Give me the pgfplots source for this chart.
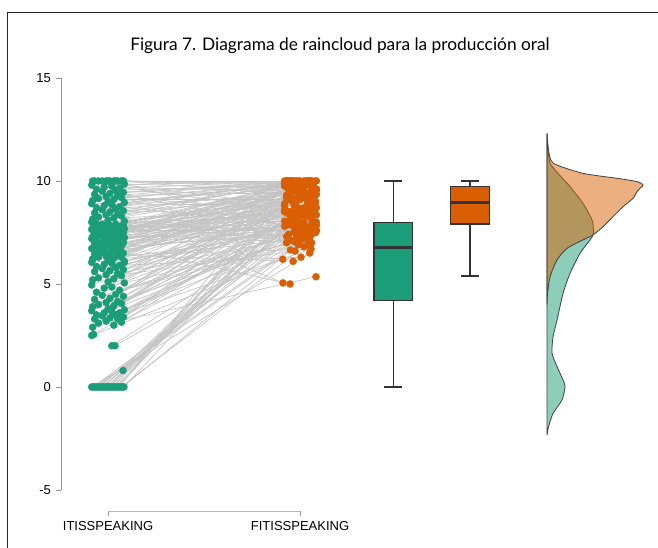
\documentclass[border=0pt]{standalone}
\usepackage{fontspec}
\setmainfont{Liberation Sans}
\newfontfamily\titlefont{Lato}
\usepackage{pgfplots}
\usepackage{pgfplotstable}
\pgfplotsset{compat=1.18}
\usepgfplotslibrary{statistics}
\definecolor{dkgreen}{HTML}{1B9E77}
\definecolor{dkorange}{HTML}{D95F02}
\definecolor{linegray}{RGB}{196,196,196}
\definecolor{axgray}{RGB}{150,150,150}
\definecolor{boxline}{RGB}{51,51,51}

% paired scores: xi yi = ITISSPEAKING (jittered), xf yf = FITISSPEAKING (jittered)
\pgfplotstableread{
xi yi xf yf
-0.085 0 1.050 6.5
-0.077 0 0.930 7.0
-0.069 0 1.020 7.2
-0.061 0 1.080 7.5
-0.053 0 0.970 7.8
-0.045 0 0.940 8.0
-0.037 0 1.060 8.1
-0.029 0 1.000 8.3
-0.021 0 0.920 8.5
-0.013 0 1.040 8.6
-0.005 0 0.990 8.7
0.003 0 1.070 9.0
0.011 0 0.950 9.1
0.019 0 1.030 9.2
0.027 0 0.960 9.5
0.035 0 1.085 9.6
0.043 0 0.980 9.7
0.051 0 1.050 10
0.059 0 0.930 10
0.067 0 1.020 6.8
0.075 0 1.080 7.6
0.083 0 0.970 8.8
0.078 0.8 0.940 7.4
0.020 2.0 1.060 8.2
0.036 2.0 1.000 7.1
-0.085 2.5 0.910 6.2
-0.075 2.55 1.040 8.6
-0.080 2.9 1.083 5.35
0.030 3.0 0.930 7.3
-0.050 3.1 1.020 8.0
0.070 3.15 1.080 9.0
-0.010 3.2 0.970 7.7
0.050 3.3 0.940 8.4
-0.070 3.3 1.060 9.5
0.010 3.35 1.057 6.7
0.080 3.4 0.920 8.9
-0.030 3.45 1.040 10
0.040 3.5 0.990 7.9
-0.060 3.5 1.070 9.3
0.060 3.6 0.950 8.2
-0.020 3.6 1.030 7.5
0.020 3.65 0.960 9.8
-0.085 3.7 1.085 8.7
0.085 3.75 0.980 7.0
0.000 3.8 1.050 8.5
-0.080 3.9 0.930 9.2
0.030 3.95 1.020 7.8
-0.050 4.0 1.080 9.6
0.070 4.05 0.970 8.3
-0.010 4.1 0.940 10
0.050 4.15 1.060 7.4
-0.070 4.25 1.000 7.6
0.010 4.3 0.920 8.8
0.080 4.4 1.040 9.4
-0.030 4.45 0.990 6.9
0.040 4.5 1.070 9.9
-0.060 4.6 0.950 8.1
0.060 4.7 1.030 7.2
-0.020 4.8 0.960 9.1
0.020 4.85 1.085 10
-0.085 4.95 0.980 8.6
0.085 5.05 1.050 7.2
0.000 5.1 0.930 7.9
-0.080 5.2 1.020 8.7
0.030 5.25 1.080 9.3
-0.050 5.3 0.974 6.6
0.070 5.4 0.940 9.7
-0.010 5.45 1.060 8.2
0.050 5.5 1.000 7.3
-0.070 5.6 0.920 10
0.010 5.65 1.040 8.9
0.080 5.7 0.990 9.5
-0.030 5.75 1.070 7.7
0.040 5.8 0.950 8.4
-0.060 5.85 1.030 9.9
0.060 5.9 1.005 6.3
-0.020 5.95 0.960 9.0
0.020 6.0 1.085 8.0
-0.085 6.05 0.980 7.2
0.085 6.1 1.050 7.8
0.000 6.15 0.930 9.2
-0.080 6.2 1.020 8.5
0.030 6.25 1.080 10
-0.050 6.3 0.970 9.6
0.070 6.3 0.940 7.4
-0.010 6.35 1.060 8.9
0.050 6.4 1.000 9.8
-0.070 6.45 0.964 6.1
0.010 6.5 1.040 8.3
0.080 6.5 0.990 9.4
-0.030 6.55 1.070 7.9
0.040 6.6 0.950 10
-0.060 6.6 1.030 8.6
0.060 6.65 0.960 9.1
-0.020 6.7 1.085 7.6
0.020 6.7 0.980 9.7
-0.085 6.72 1.050 8.8
0.085 6.05 0.930 9.3
0.000 6.4 0.950 6.65
-0.080 6.2 1.020 9.9
0.030 6.78 1.080 7.5
-0.050 6.80 0.970 8.4
0.070 6.85 0.940 9.3
-0.010 6.88 1.060 10
0.050 6.90 1.000 7.7
-0.070 6.95 0.920 8.6
0.010 7.00 1.040 9.1
0.080 7.00 0.990 8.0
-0.030 7.02 0.948 5.0
0.040 7.05 0.950 9.5
-0.060 7.10 1.030 9.8
0.060 7.12 0.960 8.3
-0.020 7.15 1.085 7.85
0.020 7.20 0.980 9.0
-0.085 7.20 1.050 8.75
0.085 7.25 0.930 10
0.000 7.28 1.020 7.4
-0.080 7.30 1.080 9.4
0.030 7.32 0.970 8.1
-0.050 7.35 0.940 9.6
0.070 7.40 1.060 7.0
-0.010 7.40 1.000 8.5
0.050 7.42 0.920 9.9
-0.070 7.45 1.040 9.2
0.010 7.50 0.990 7.8
0.080 7.50 1.070 8.85
-0.030 7.52 0.950 9.35
0.040 7.55 1.030 10
-0.060 7.58 0.960 8.2
0.060 7.60 1.085 7.6
-0.020 7.60 0.980 9.05
0.020 7.62 1.050 8.65
-0.085 7.65 0.930 9.75
0.085 7.68 1.020 7.3
0.000 7.70 1.080 9.45
-0.080 7.70 0.970 8.45
0.030 7.72 0.940 7.88
-0.050 7.75 1.060 9.65
0.070 7.78 1.000 10
-0.010 7.80 0.920 8.05
0.050 7.80 1.040 7.65
-0.070 7.82 0.990 9.25
0.010 7.85 1.070 8.8
0.080 7.88 0.950 9.85
-0.030 7.90 1.030 9.15
0.040 7.90 0.960 7.1
-0.060 7.92 1.085 8.35
0.060 7.12 0.980 9.55
-0.020 7.35 1.050 10
0.020 7.55 0.930 8.55
-0.085 8.00 1.020 9.7
0.085 8.05 1.080 9.0
0.000 8.10 0.970 7.5
-0.080 8.15 0.940 10
0.030 8.20 1.060 8.6
-0.050 8.25 1.000 9.4
0.070 8.30 0.920 9.9
-0.010 8.35 1.040 10
0.050 8.40 0.911 5.05
-0.070 8.45 1.070 9.2
0.010 8.50 0.950 9.8
0.080 8.55 1.030 8.3
-0.030 8.60 0.960 10
0.040 8.65 1.085 9.55
-0.060 8.70 0.980 9.95
0.060 8.75 1.050 7.75
-0.020 8.80 0.930 9.3
0.020 8.85 1.020 10
-0.085 8.90 1.080 8.8
0.085 8.95 0.970 9.85
0.000 9.00 0.940 9.6
-0.080 9.05 1.060 10
0.030 9.10 1.000 9.1
-0.050 9.15 0.920 9.75
0.070 9.20 1.040 6.9
-0.010 9.25 0.990 10
0.050 9.30 1.070 9.45
-0.070 9.35 0.950 8.5
0.010 9.40 1.030 9.9
0.080 9.45 0.960 10
-0.030 9.50 1.085 9.35
0.040 9.55 0.980 9.8
-0.060 9.60 1.050 7.6
0.060 9.65 0.930 10
-0.020 9.70 1.020 9.5
0.020 9.75 1.080 8.4
-0.085 9.80 0.970 10
0.085 9.85 0.940 9.65
0.000 10 1.060 10
-0.080 10 1.000 9.9
0.030 10 0.920 7.8
-0.050 10 1.040 10
0.070 10 0.990 9.3
-0.010 10 1.070 9.75
0.050 10 0.950 10
-0.070 10 1.030 8.7
0.010 10 0.960 9.85
0.080 10 1.085 9.6
-0.030 10 0.980 10
0.040 10 1.050 9.95
}\pairs

% half-violin densities: y value, width (px of reference)
\pgfplotstableread{
y w
12.31 0
11.5 1
10.86 3
10.37 11
9.72 23
8.91 36
8.1 45
7.6 46.5
7.38 46
7.14 43
6.49 33
5.52 23
4.55 16
3.25 10
2.44 6
1.63 5
0.99 10
0.34 16
0.02 18
-0.63 15
-1.28 6
-1.93 1.5
-2.33 0
}\densgreen
\pgfplotstableread{
y w
12.31 0
11.5 1.5
10.86 6.3
10.37 36
10.13 70
9.97 90
9.81 96
9.6 92
9.48 90
9.16 86
8.75 76
8.27 66
7.78 56
7.38 46
7.14 36
6.73 20
6.17 10
5.35 3
4.55 0.5
4.0 0
}\densorange

\begin{document}
\begin{tikzpicture}
\path[use as bounding box] (0,0) rectangle (493.5pt,411pt);
\draw[line width=1.1pt, black!85] (5.5pt,-2pt) -- (5.5pt,401.8pt) -- (496pt,401.8pt);
\node[font=\titlefont\fontsize{13}{15}\selectfont] at (255pt,377pt) {Figura 7. Diagrama de raincloud para la producción oral};
\begin{axis}[
  at={(45.75pt,27.75pt)}, anchor=south west,
  x=144pt, y=15.45pt,
  xmin=-0.245, xmax=2.95, ymin=-6.02, ymax=15.2,
  axis line style={draw=none},
  clip=false,
  xtick={0,1}, xticklabels={ITISSPEAKING,FITISSPEAKING},
  ytick={-5,0,5,10,15},
  tick pos=left, tick align=outside,
  major tick length=4pt,
  tick style={draw=axgray, line width=0.6pt},
  ticklabel style={font=\fontsize{9.75}{11}\selectfont},
  /pgf/number format/assume math mode=true,
]
\draw[axgray, line width=0.6pt] (axis cs:-0.245,-5) -- (axis cs:-0.245,15);
\draw[axgray!70, line width=0.6pt] (axis cs:0,-6.02) -- (axis cs:1,-6.02);

% connecting lines
\addplot[quiver={u=\thisrow{xf}-\thisrow{xi}, v=\thisrow{yf}-\thisrow{yi}}, draw=linegray, line width=0.5pt] table[x=xi,y=yi] {\pairs};
% points
\addplot[only marks, mark=*, mark size=2.6pt, color=dkgreen] table[x=xi,y=yi] {\pairs};
\addplot[only marks, mark=*, mark size=2.6pt, color=dkorange] table[x=xf,y=yf] {\pairs};

% boxplots
\addplot[draw=boxline, line width=1pt, fill=dkgreen,
  boxplot/draw direction=y,
  boxplot prepared={lower whisker=0, lower quartile=4.19, median=6.78, upper quartile=7.98, upper whisker=10,
    draw position=1.486, box extend=0.2016, whisker extend=0.095,
    every median/.style={line width=2.4pt}}] coordinates {};
\addplot[draw=boxline, line width=1pt, fill=dkorange,
  boxplot/draw direction=y,
  boxplot prepared={lower whisker=5.39, lower quartile=7.91, median=8.95, upper quartile=9.72, upper whisker=10,
    draw position=1.885, box extend=0.2016, whisker extend=0.095,
    every median/.style={line width=2.4pt}}] coordinates {};

% densities
\addplot[smooth, tension=0.4, fill=dkgreen, fill opacity=0.5, draw=black!75, line width=0.6pt]
  table[x expr=2.2865+\thisrow{w}/192, y=y] {\densgreen} -- cycle;
\addplot[smooth, tension=0.4, fill=dkorange, fill opacity=0.5, draw=black!75, line width=0.6pt]
  table[x expr=2.2865+\thisrow{w}/192, y=y] {\densorange} -- cycle;
\end{axis}
\end{tikzpicture}
\end{document}
